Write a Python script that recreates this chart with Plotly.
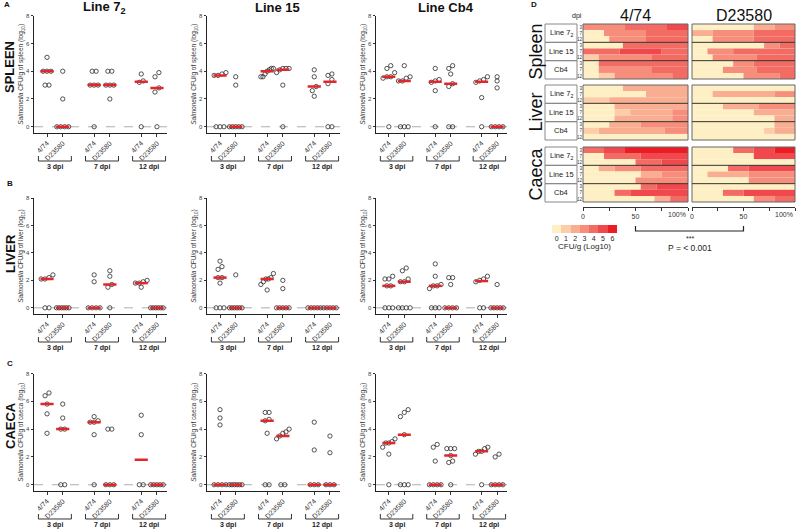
import numpy as np
import plotly.graph_objects as go

W, H = 797, 530
FONT = "Liberation Sans, Arial, Helvetica, sans-serif"

# ---------------- data ----------------
x_positions = [1, 2, 4, 5, 7, 8]
tick_labels = ["4/74", "D23580", "4/74", "D23580", "4/74", "D23580"]
dpi_labels = ["3 dpi", "7 dpi", "12 dpi"]
line_titles = ["Line 7<sub>2</sub>", "Line 15", "Line Cb4"]
organ_labels = ["SPLEEN", "LIVER", "CAECA"]
organ_words = ["spleen", "liver", "caeca"]
panel_letters = ["A", "B", "C"]

# order in each list: 4/74 3dpi, D23580 3dpi, 4/74 7dpi, D23580 7dpi, 4/74 12dpi, D23580 12dpi
spleen_line72 = [[5, 4, 4, 4, 3, 3], [4, 2, 0, 0, 0, 0], [4, 4, 3, 3, 3, 0],
                 [4, 4, 3, 3, 3, 2], [3.8, 3.3, 3.2, 0], [3.9, 3.6, 2.8, 2.5, 0]]
spleen_line15 = [[3.9, 3.8, 3.7, 3.7, 0, 0, 0], [3.6, 3.0, 0, 0, 0, 0, 0],
                 [4.2, 4.2, 4.1, 4.0, 3.8, 3.6, 3.6], [4.2, 4.2, 4.2, 4.1, 3.9, 3.0, 0],
                 [4.1, 3.6, 2.9, 2.6, 2.2], [3.8, 3.7, 3.4, 3.1, 0, 0]]
spleen_cb4 = [[4.4, 4.2, 3.9, 3.6, 3.6, 3.5, 0], [4.4, 3.6, 3.5, 3.3, 3.3, 0, 0, 0],
              [4.2, 3.4, 3.3, 3.2, 2.6, 0], [4.4, 4.2, 3.8, 3.1, 2.9, 0, 0],
              [3.6, 3.4, 3.3, 3.2, 2.1, 0], [3.6, 3.3, 2.8, 0, 0, 0, 0]]
liver_line72 = [[2.4, 2.2, 2.1, 2.1, 0, 0], [0, 0, 0, 0, 0, 0], [2.4, 1.9, 0, 0, 0, 0],
                [2.7, 2.3, 1.7, 1.5, 0], [2.0, 1.9, 1.8, 1.8, 1.5], [0, 0, 0, 0, 0, 0]]
liver_line15 = [[3.4, 3.0, 2.8, 2.2, 2.2, 1.8, 0, 0, 0], [2.4, 0, 0, 0, 0, 0, 0],
                [2.5, 2.2, 2.1, 2.1, 1.9, 1.7, 1.3], [2.0, 1.4, 0, 0, 0, 0, 0],
                [0, 0, 0, 0, 0], [0, 0, 0, 0, 0]]
liver_cb4 = [[2.3, 2.1, 2.1, 1.6, 1.6, 0, 0, 0], [2.9, 2.7, 2.1, 1.9, 1.9, 0, 0, 0, 0],
             [3.2, 2.3, 1.7, 1.6, 1.6, 1.4, 0, 0, 0], [2.2, 2.2, 1.7, 0, 0, 0, 0],
             [2.3, 2.1, 2.0, 1.9, 0, 0], [1.7, 0, 0, 0, 0, 0]]
caeca_line72 = [[6.6, 6.4, 5.8, 5.1, 3.7], [5.8, 4.8, 4.0, 4.0, 0, 0], [4.9, 4.6, 4.5, 4.5, 3.6, 0],
                [4.0, 4.0, 0, 0, 0], [5.0, 3.6, 0, 0], [0, 0, 0, 0, 0]]
caeca_line15 = [[5.4, 4.8, 4.3, 0, 0, 0, 0], [0, 0, 0, 0, 0, 0], [5.2, 5.2, 4.7, 4.6, 3.7, 0, 0],
                [4.0, 3.8, 3.7, 3.5, 3.3, 0, 0], [4.5, 2.5, 0, 0, 0], [3.5, 2.3, 0, 0, 0]]
caeca_cb4 = [[3.3, 3.1, 3.0, 3.0, 2.7, 2.2, 0], [5.4, 5.2, 4.9, 3.6, 0, 0, 0],
             [2.9, 2.7, 1.7, 0, 0, 0, 0], [2.6, 2.6, 2.6, 2.1, 1.7, 1.6, 0],
             [2.7, 2.6, 2.4, 2.4, 2.2, 0], [2.2, 2.0, 0, 0, 0, 0]]

scatter_data = [[spleen_line72, spleen_line15, spleen_cb4],
                [liver_line72, liver_line15, liver_cb4],
                [caeca_line72, caeca_line15, caeca_cb4]]

# heat map rows: (cumulative % end, CFU level); rows = Line 7_2 (3,7,12), Line 15 (3,7,12), Cb4 (3,7,12)
spleen_474 = [[(40, 3), (80, 4), (100, 5)], [(20, 0), (60, 3), (100, 4)], [(25, 0), (60, 3), (100, 4)],
              [(38, 0), (100, 4)], [(35, 4), (75, 5), (100, 4)], [(15, 1), (65, 3), (100, 4)],
              [(15, 0), (100, 4)], [(15, 0), (65, 3), (100, 4)], [(15, 0), (30, 1), (85, 3), (100, 4)]]
spleen_d23580 = [[(60, 0), (80, 2), (100, 3)], [(20, 2), (60, 3), (100, 4)], [(20, 0), (60, 3), (100, 4)],
                 [(70, 0), (85, 3), (100, 4)], [(15, 0), (40, 3), (100, 4)], [(20, 0), (63, 3), (100, 4)],
                 [(40, 0), (60, 3), (100, 4)], [(30, 0), (63, 3), (100, 4)], [(50, 0), (85, 3), (100, 4)]]
liver_474 = [[(38, 0), (100, 2)], [(60, 0), (100, 2)], [(25, 1), (100, 2)],
             [(30, 0), (100, 2)], [(30, 0), (45, 1), (85, 2), (100, 3)], [(30, 0), (85, 2), (100, 3)],
             [(25, 0), (55, 2), (100, 3)], [(15, 1), (78, 2), (100, 3)], [(100, 0)]]
liver_d23580 = [[(100, 0)], [(20, 0), (80, 2), (100, 3)], [(100, 0)],
                [(30, 0), (65, 2), (100, 3)], [(60, 0), (100, 2)], [(80, 0), (100, 2)],
                [(80, 0), (100, 2)], [(70, 0), (80, 1), (100, 2)], [(100, 0)]]
caeca_474 = [[(20, 4), (40, 5), (100, 6)], [(20, 0), (55, 4), (100, 5)], [(50, 0), (75, 4), (100, 5)],
             [(15, 0), (30, 2), (55, 3), (100, 4)], [(55, 0), (75, 2), (100, 3)], [(50, 0), (100, 3)],
             [(55, 0), (70, 4), (100, 5)], [(30, 0), (45, 4), (100, 5)], [(68, 0), (83, 2), (100, 4)]]
caeca_d23580 = [[(40, 0), (60, 4), (80, 5), (100, 6)], [(60, 0), (100, 5)], [(100, 0)],
                [(35, 0), (55, 4), (100, 5)], [(15, 0), (55, 2), (100, 3)], [(55, 0), (100, 3)],
                [(100, 0)], [(30, 0), (50, 4), (100, 5)], [(60, 0), (80, 3), (100, 4)]]

heat_data = [[spleen_474, spleen_d23580], [liver_474, liver_d23580], [caeca_474, caeca_d23580]]
heat_strains = ["4/74", "D23580"]
heat_organs = ["Spleen", "Liver", "Caeca"]
heat_lines = ["Line 7<sub>2</sub>", "Line 15", "Cb4"]
heat_dpi_ticks = ["3", "7", "12"] * 3
cfu_levels = [0, 1, 2, 3, 4, 5, 6]
level_colors = ["#FEF0C4", "#FCCDA8", "#F9AE91", "#F68E7B", "#F36C64", "#F0484D", "#EC1C24"]

# ---------------- helpers ----------------
def fx(p):
    return p / W


def fy(p):
    return 1 - p / H


def names(k):
    s = "" if k == 1 else str(k)
    return "x" + s, "y" + s, "xaxis" + s, "yaxis" + s


def ann(**kw):
    d = dict(showarrow=False, xanchor="center", yanchor="middle", xref="paper", yref="paper")
    d.update(kw)
    return d


def spread(vals, tol=0.3):
    vals = np.asarray(vals, dtype=float)
    order = np.argsort(vals, kind="stable")
    sv = vals[order]
    offs = np.zeros(len(vals))
    clusters, cur = [], [0]
    for i in range(1, len(sv)):
        if sv[i] - sv[cur[-1]] < tol:
            cur.append(i)
        else:
            clusters.append(cur)
            cur = [i]
    clusters.append(cur)
    for cl in clusters:
        n = len(cl)
        if n == 1:
            continue
        step = min(0.25, 0.8 / (n - 1))
        for j, i in enumerate(cl):
            offs[order[i]] = (j - (n - 1) / 2) * step
    return offs


fig = go.Figure()
layout = dict(width=W, height=H, margin=dict(l=0, r=0, t=0, b=0), template="none",
              paper_bgcolor="white", plot_bgcolor="white", showlegend=False,
              font=dict(family=FONT, color="#222"), barmode="overlay")
shapes, annotations = [], []

col_px = [(34, 167), (207, 340), (376, 507)]
row_px = [(15.7, 133), (198, 314), (373.5, 491)]
Y_RANGE = [-0.45, 8]
X_RANGE = [0.17, 8.64]
organ_center_px = [67, 254, 426]
letter_px = [(2, 5), (5, 183), (5, 363)]

for r in range(3):
    for c in range(3):
        k = r * 3 + c + 1
        xa, ya, xl, yl = names(k)
        xs, ys, mx, my = [], [], [], []
        for gi, vals in enumerate(scatter_data[r][c]):
            offs = spread(vals)
            xs += list(x_positions[gi] + offs)
            ys += list(vals)
            med = float(np.median(vals))
            mx += [x_positions[gi] - 0.42, x_positions[gi] + 0.42, None]
            my += [med, med, None]
        fig.add_trace(go.Scatter(x=xs, y=ys, mode="markers", xaxis=xa, yaxis=ya, hoverinfo="skip",
                                 marker=dict(symbol="circle-open", size=4.3, color="#2a2a2a",
                                             line=dict(width=0.8))))
        fig.add_trace(go.Scatter(x=mx, y=my, mode="lines", xaxis=xa, yaxis=ya, hoverinfo="skip",
                                 line=dict(color="#E3262B", width=2.5)))
        x0p, x1p = col_px[c]
        ytp, ybp = row_px[r]
        layout[xl] = dict(domain=[fx(x0p), fx(x1p)], range=X_RANGE, anchor=ya, tickmode="array",
                          tickvals=x_positions, ticktext=tick_labels, tickangle=-45,
                          tickfont=dict(size=7, color="#333"), ticks="outside", ticklen=2.5,
                          tickcolor="#333", showline=True, linecolor="#222", linewidth=1,
                          showgrid=False, zeroline=False)
        layout[yl] = dict(domain=[fy(ybp), fy(ytp)], range=Y_RANGE, anchor=xa, tickmode="array",
                          tickvals=[0, 2, 4, 6, 8], tickfont=dict(size=6, color="#444"),
                          ticks="outside", ticklen=2.5, tickcolor="#333", showline=True,
                          linecolor="#222", linewidth=1, showgrid=False, zeroline=False,
                          title=dict(text="<i>Salmonella</i> CFU/g of %s (log<sub>10</sub>)" % organ_words[r],
                                     font=dict(size=6.5, color="#333"), standoff=1))
        shapes.append(dict(type="line", xref=xa + " domain", yref=ya, x0=0, x1=1, y0=0, y1=0,
                           line=dict(color="#999", width=0.8, dash="dash"), layer="below"))
        for d in range(3):
            bx0 = x_positions[2 * d] - 0.55
            bx1 = x_positions[2 * d + 1] + 0.55
            yt, yb = fy(ybp + 23), fy(ybp + 28)
            shapes.append(dict(type="path", xref=xa, yref="paper",
                               path="M %f,%f L %f,%f L %f,%f L %f,%f" % (bx0, yt, bx0, yb, bx1, yb, bx1, yt),
                               line=dict(color="#333", width=1)))
            annotations.append(ann(x=(bx0 + bx1) / 2, y=fy(ybp + 34), xref=xa,
                                   text="<b>%s</b>" % dpi_labels[d], font=dict(size=7, color="#222")))
        if r == 0:
            annotations.append(ann(x=fx((x0p + x1p) / 2 + 4), y=fy(8),
                                   text="<b>%s</b>" % line_titles[c], font=dict(size=13, color="#111")))
    annotations.append(ann(x=fx(10), y=fy(organ_center_px[r]), text="<b>%s</b>" % organ_labels[r],
                           textangle=-90, font=dict(size=13, color="#111")))
    annotations.append(ann(x=fx(letter_px[r][0]), y=fy(letter_px[r][1]), xanchor="left",
                           text="<b>%s</b>" % panel_letters[r], font=dict(size=8, color="#111")))

# ---------------- heat map panel D ----------------
hm_x = [(583, 688), (692, 795)]
hm_y = [(24, 79), (85, 140), (147, 202)]
for b in range(3):
    for s in range(2):
        k = 10 + b * 2 + s
        xa, ya, xl, yl = names(k)
        ys, xs, bases, cols = [], [], [], []
        for ri, segs in enumerate(heat_data[b][s]):
            start = 0
            for end, lvl in segs:
                ys.append(ri)
                bases.append(start)
                xs.append(end - start)
                cols.append(level_colors[lvl])
                start = end
        fig.add_trace(go.Bar(x=xs, y=ys, base=bases, orientation="h", width=1, xaxis=xa, yaxis=ya,
                             hoverinfo="skip", marker=dict(color=cols, line=dict(width=0))))
        xd = [fx(hm_x[s][0]), fx(hm_x[s][1])]
        yd = [fy(hm_y[b][1]), fy(hm_y[b][0])]
        if b == 2:
            layout[xl] = dict(domain=xd, range=[0, 100], anchor="free", position=fy(207),
                              tickmode="array", tickvals=[0, 25, 50, 75, 100],
                              ticktext=["0", "", "50", "", ""], ticks="outside", ticklen=3,
                              tickcolor="#333", showline=True, linecolor="#333", linewidth=1,
                              tickfont=dict(size=7, color="#333"), showgrid=False, zeroline=False)
            annotations.append(ann(x=100, y=fy(214), xref=xa, xanchor="right",
                                   text="100%", font=dict(size=7, color="#333")))
        else:
            layout[xl] = dict(domain=xd, range=[0, 100], anchor=ya, showticklabels=False,
                              ticks="", showline=False, showgrid=False, zeroline=False)
        layout[yl] = dict(domain=yd, range=[8.5, -0.5], anchor=xa, tickmode="array",
                          tickvals=list(range(9)), ticktext=heat_dpi_ticks if s == 0 else [""] * 9,
                          ticks="", tickfont=dict(size=4.5, color="#333"), showgrid=False,
                          zeroline=False, showline=False)
        shapes.append(dict(type="rect", xref=xa + " domain", yref=ya + " domain", x0=0, x1=1, y0=0, y1=1,
                           line=dict(color="#666", width=1)))
        for sep in (2.5, 5.5):
            shapes.append(dict(type="line", xref=xa + " domain", yref=ya, x0=0, x1=1, y0=sep, y1=sep,
                               line=dict(color="#333", width=1)))
    # row label boxes
    top, bot = hm_y[b]
    hgt = (bot - top) / 3
    for li in range(3):
        y0p = top + li * hgt
        shapes.append(dict(type="rect", xref="paper", yref="paper", x0=fx(545), x1=fx(577),
                           y0=fy(y0p + hgt), y1=fy(y0p), line=dict(color="#888", width=1)))
        annotations.append(ann(x=fx(561), y=fy(y0p + hgt / 2), text=heat_lines[li],
                               font=dict(size=7.5, color="#222")))
    annotations.append(ann(x=fx(535), y=fy((top + bot) / 2), text=heat_organs[b], textangle=-90,
                           font=dict(size=18, color="#111")))

for s in range(2):
    annotations.append(ann(x=fx((hm_x[s][0] + hm_x[s][1]) / 2), y=fy(16), text=heat_strains[s],
                           font=dict(size=16, color="#111")))
annotations.append(ann(x=fx(577), y=fy(16), text="dpi", font=dict(size=7, color="#222")))
annotations.append(ann(x=fx(529), y=fy(5), xanchor="left", text="<b>D</b>",
                       font=dict(size=8, color="#111")))

# colour key
kx, ky, kxl, kyl = names(16)
n_lv = len(cfu_levels)
cscale = []
for i, col in enumerate(level_colors):
    cscale += [[i / n_lv, col], [(i + 1) / n_lv, col]]
fig.add_trace(go.Heatmap(z=[cfu_levels], x=cfu_levels, y=[0], colorscale=cscale, zmin=-0.5, zmax=6.5,
                         showscale=False, xaxis=kx, yaxis=ky, hoverinfo="skip"))
layout[kxl] = dict(domain=[fx(552), fx(617)], anchor=ky, tickmode="array", tickvals=cfu_levels,
                   ticks="", showline=False, showgrid=False, zeroline=False,
                   tickfont=dict(size=7, color="#222"),
                   title=dict(text="CFU/g (Log10)", font=dict(size=8, color="#222"), standoff=1))
layout[kyl] = dict(domain=[fy(233), fy(225)], anchor=kx, visible=False)

# significance bracket
b474 = fx(hm_x[0][0] + 0.5 * (hm_x[0][1] - hm_x[0][0]))
bd = fx(hm_x[1][0] + 0.5 * (hm_x[1][1] - hm_x[1][0]))
shapes.append(dict(type="path", xref="paper", yref="paper",
                   path="M %f,%f L %f,%f L %f,%f L %f,%f" % (b474, fy(226), b474, fy(231), bd, fy(231), bd, fy(226)),
                   line=dict(color="#222", width=1.2)))
annotations.append(ann(x=(b474 + bd) / 2, y=fy(238), text="***", font=dict(size=7, color="#222")))
annotations.append(ann(x=(b474 + bd) / 2, y=fy(248), text="P = < 0.001", font=dict(size=8.5, color="#222")))

layout["shapes"] = shapes
layout["annotations"] = annotations
fig.update_layout(**layout)
fig.write_html("out.html", config={"displayModeBar": False},
               post_script="document.body.style.margin='0px';document.body.style.padding='0px';")
